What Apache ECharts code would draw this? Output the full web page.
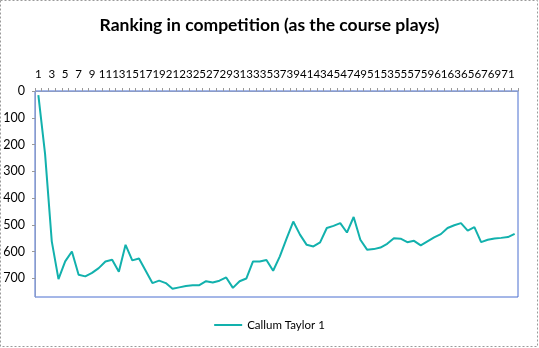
<!DOCTYPE html>
<html>
<head>
<meta charset="utf-8">
<script src="https://cdn.jsdelivr.net/npm/echarts@6/dist/echarts.min.js"></script>
<style>
html,body{margin:0;padding:0;background:#fff;}
#c{width:539px;height:348px;}
</style>
</head>
<body>
<div id="c"></div>
<script>
var categories = ["1","2","3","4","5","6","7","8","9","10","11","12","13","14","15","16","17","18","19","20","21","22","23","24","25","26","27","28","29","30","31","32","33","34","35","36","37","38","39","40","41","42","43","44","45","46","47","48","49","50","51","52","53","54","55","56","57","58","59","60","61","62","63","64","65","66","67","68","69","70","71","72"];
var callumTaylor1 = [15,235,562,703,637,600,687,693,680,662,637,631,676,575,633,626,672,718,709,718,739,734,729,726,726,711,716,709,697,736,711,701,637,637,632,672,618,552,488,537,575,581,566,512,504,494,529,471,556,593,591,585,571,550,552,565,560,577,562,547,535,512,502,494,522,509,565,556,551,549,546,534];
var yTicks = [0,100,200,300,400,500,600,700];
var seriesName = "Callum Taylor 1";
var titleText = "Ranking in competition (as the course plays)";

var chart = echarts.init(document.getElementById('c'), null, {renderer:'canvas'});
var font = 'Lato, "Open Sans", sans-serif';
chart.setOption({
  animation: false,
  backgroundColor: '#fff',
  title: {
    text: titleText,
    left: 'center',
    top: 11,
    textStyle: {fontFamily: font, fontSize: 17.5, fontWeight: 'bold', color: '#000'}
  },
  legend: {
    bottom: 12,
    left: 'center',
    itemWidth: 28,
    itemHeight: 2,
    icon: 'rect',
    itemGap: 4,
    textStyle: {fontFamily: font, fontSize: 11.5, color: '#000'},
    data: [seriesName]
  },
  grid: {
    left: 35, right: 21, top: 91, bottom: 51,
    show: true, borderColor: '#4a6fd0', borderWidth: 1, backgroundColor: 'transparent'
  },
  xAxis: {
    type: 'category',
    position: 'top',
    data: categories,
    boundaryGap: true,
    axisLine: {show: true, lineStyle: {color: '#8a9bc8', width: 1}},
    axisTick: {show: true, length: 3, inside: false, interval: 0, lineStyle: {color: '#999'}},
    axisLabel: {interval: 1, margin: 11, fontFamily: font, fontSize: 11.5, color: '#000'},
    splitLine: {show: false}
  },
  yAxis: {
    type: 'value',
    inverse: true,
    min: 0,
    max: 770,
    interval: 100,
    axisLine: {show: true, lineStyle: {color: '#8a9bc8', width: 1}},
    axisTick: {show: true, length: 3, lineStyle: {color: '#999'}},
    axisLabel: {showMaxLabel: false, margin: 10, fontFamily: font, fontSize: 12.5, color: '#000'},
    splitLine: {show: false}
  },
  series: [{
    name: seriesName,
    type: 'line',
    data: callumTaylor1,
    symbol: 'none',
    lineStyle: {color: '#12b1ad', width: 2},
    itemStyle: {color: '#12b1ad'}
  }],
  graphic: [{
    type: 'rect',
    shape: {x: 0.5, y: 0.5, width: 537, height: 346},
    style: {fill: 'none', stroke: '#9a9a9a', lineWidth: 1, lineDash: [2, 2]},
    silent: true
  }]
});
</script>
</body>
</html>
